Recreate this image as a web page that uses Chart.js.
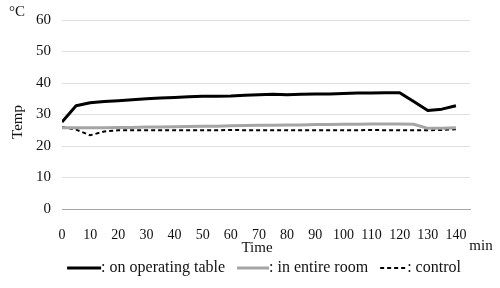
<!DOCTYPE html>
<html>
<head>
<meta charset="utf-8">
<script src="https://cdn.jsdelivr.net/npm/chart.js@4/dist/chart.umd.min.js"></script>
<style>
html,body{margin:0;padding:0;background:#fff;}
#wrap{width:500px;height:288px;}
</style>
</head>
<body>
<div id="wrap"><canvas id="c" width="500" height="288"></canvas></div>
<script>
const minutes = [0,5,10,15,20,25,30,35,40,45,50,55,60,65,70,75,80,85,90,95,100,105,110,115,120,125,130,135,140];
const onTable = [27.6,32.8,33.7,34.1,34.4,34.7,35.0,35.2,35.4,35.6,35.8,35.8,35.9,36.1,36.3,36.4,36.3,36.4,36.5,36.5,36.7,36.8,36.8,36.9,36.9,34.1,31.3,31.7,32.8];
const entireRoom = [25.8,25.8,25.8,25.8,25.9,25.9,26.0,26.0,26.1,26.2,26.3,26.3,26.4,26.5,26.6,26.6,26.7,26.7,26.8,26.8,26.9,26.9,27.0,27.0,27.0,26.9,25.6,25.6,25.8];
const control = [26.0,25.2,23.4,24.6,25.0,25.0,25.0,25.0,25.0,25.0,25.0,25.0,25.1,25.0,25.0,25.0,25.0,25.0,25.0,25.0,25.0,25.0,25.1,25.0,25.0,25.0,25.0,25.1,25.3];
const seriesLabels = [': on operating table', ': in entire room', ': control'];
const yTicks = [0,10,20,30,40,50,60];
const xTicks = [0,10,20,30,40,50,60,70,80,90,100,110,120,130,140];
const unitY = '°C', unitX = 'min', yTitle = 'Temp', xTitle = 'Time';

const FONT = "'Liberation Serif','Times New Roman',serif";
const toPts = arr => arr.map((v,i) => ({x: minutes[i], y: v}));

const extraText = {
  id: 'extraText',
  afterDraw(chart) {
    const ctx = chart.ctx;
    ctx.save();
    ctx.fillStyle = '#111';
    ctx.font = '15px ' + FONT;
    ctx.textAlign = 'center';
    ctx.textBaseline = 'middle';
    ctx.fillText(unitY, 17, 12);
    ctx.fillText(unitX, 481, 246);
    ctx.fillText(xTitle, 257, 248);
    ctx.save();
    ctx.translate(18, 122);
    ctx.rotate(-Math.PI/2);
    ctx.fillText(yTitle, 0, 0);
    ctx.restore();

    // legend
    const sampleLens = [34, 32, 27];
    const gap = 12;
    const legendY = 268;
    ctx.font = '16px ' + FONT;
    ctx.textAlign = 'left';
    const ds = chart.data.datasets;
    let total = 0;
    ds.forEach((d, i) => { total += sampleLens[i] + ctx.measureText(d.label).width + (i < ds.length - 1 ? gap : 0); });
    let x = 264 - total / 2;
    ds.forEach((d, i) => {
      ctx.beginPath();
      ctx.strokeStyle = d.borderColor;
      ctx.lineWidth = d.borderWidth;
      ctx.setLineDash(d.borderDash || []);
      ctx.moveTo(x, legendY);
      ctx.lineTo(x + sampleLens[i], legendY);
      ctx.stroke();
      ctx.setLineDash([]);
      x += sampleLens[i];
      ctx.fillStyle = '#111';
      ctx.fillText(d.label, x, legendY);
      x += ctx.measureText(d.label).width + gap;
    });
    ctx.restore();
  }
};

new Chart(document.getElementById('c'), {
  type: 'line',
  data: {
    datasets: [
      {label: seriesLabels[0], data: toPts(onTable), borderColor: '#000', backgroundColor: '#000', borderWidth: 3, pointRadius: 0, tension: 0, borderJoinStyle: 'round'},
      {label: seriesLabels[1], data: toPts(entireRoom), borderColor: '#a5a5a5', backgroundColor: '#a5a5a5', borderWidth: 3, pointRadius: 0, tension: 0},
      {label: seriesLabels[2], data: toPts(control), borderColor: '#000', backgroundColor: '#000', borderWidth: 2, borderDash: [4,3], pointRadius: 0, tension: 0}
    ]
  },
  options: {
    responsive: false,
    animation: false,
    devicePixelRatio: 1,
    layout: {padding: {top: 19, right: 30, bottom: 37, left: 0}},
    plugins: {
      tooltip: {enabled: false},
      legend: {display: false}
    },
    scales: {
      x: {
        type: 'linear',
        min: 0,
        max: 145,
        afterBuildTicks: s => { s.ticks = xTicks.map(v => ({value: v})); },
        afterFit: s => { s.height = 42; },
        grid: {display: false},
        border: {display: true, color: '#a6a6a6', width: 1},
        ticks: {padding: 10, color: '#111', font: {family: FONT, size: 14}, maxRotation: 0, autoSkip: false}
      },
      y: {
        min: 0,
        max: 60,
        afterBuildTicks: s => { s.ticks = yTicks.map(v => ({value: v})); },
        afterFit: s => { s.width = 62; },
        grid: {color: '#e0e0e0', drawTicks: false, lineWidth: 1},
        border: {display: false},
        ticks: {padding: 11, color: '#111', font: {family: FONT, size: 15}}
      }
    }
  },
  plugins: [extraText]
});
</script>
</body>
</html>
